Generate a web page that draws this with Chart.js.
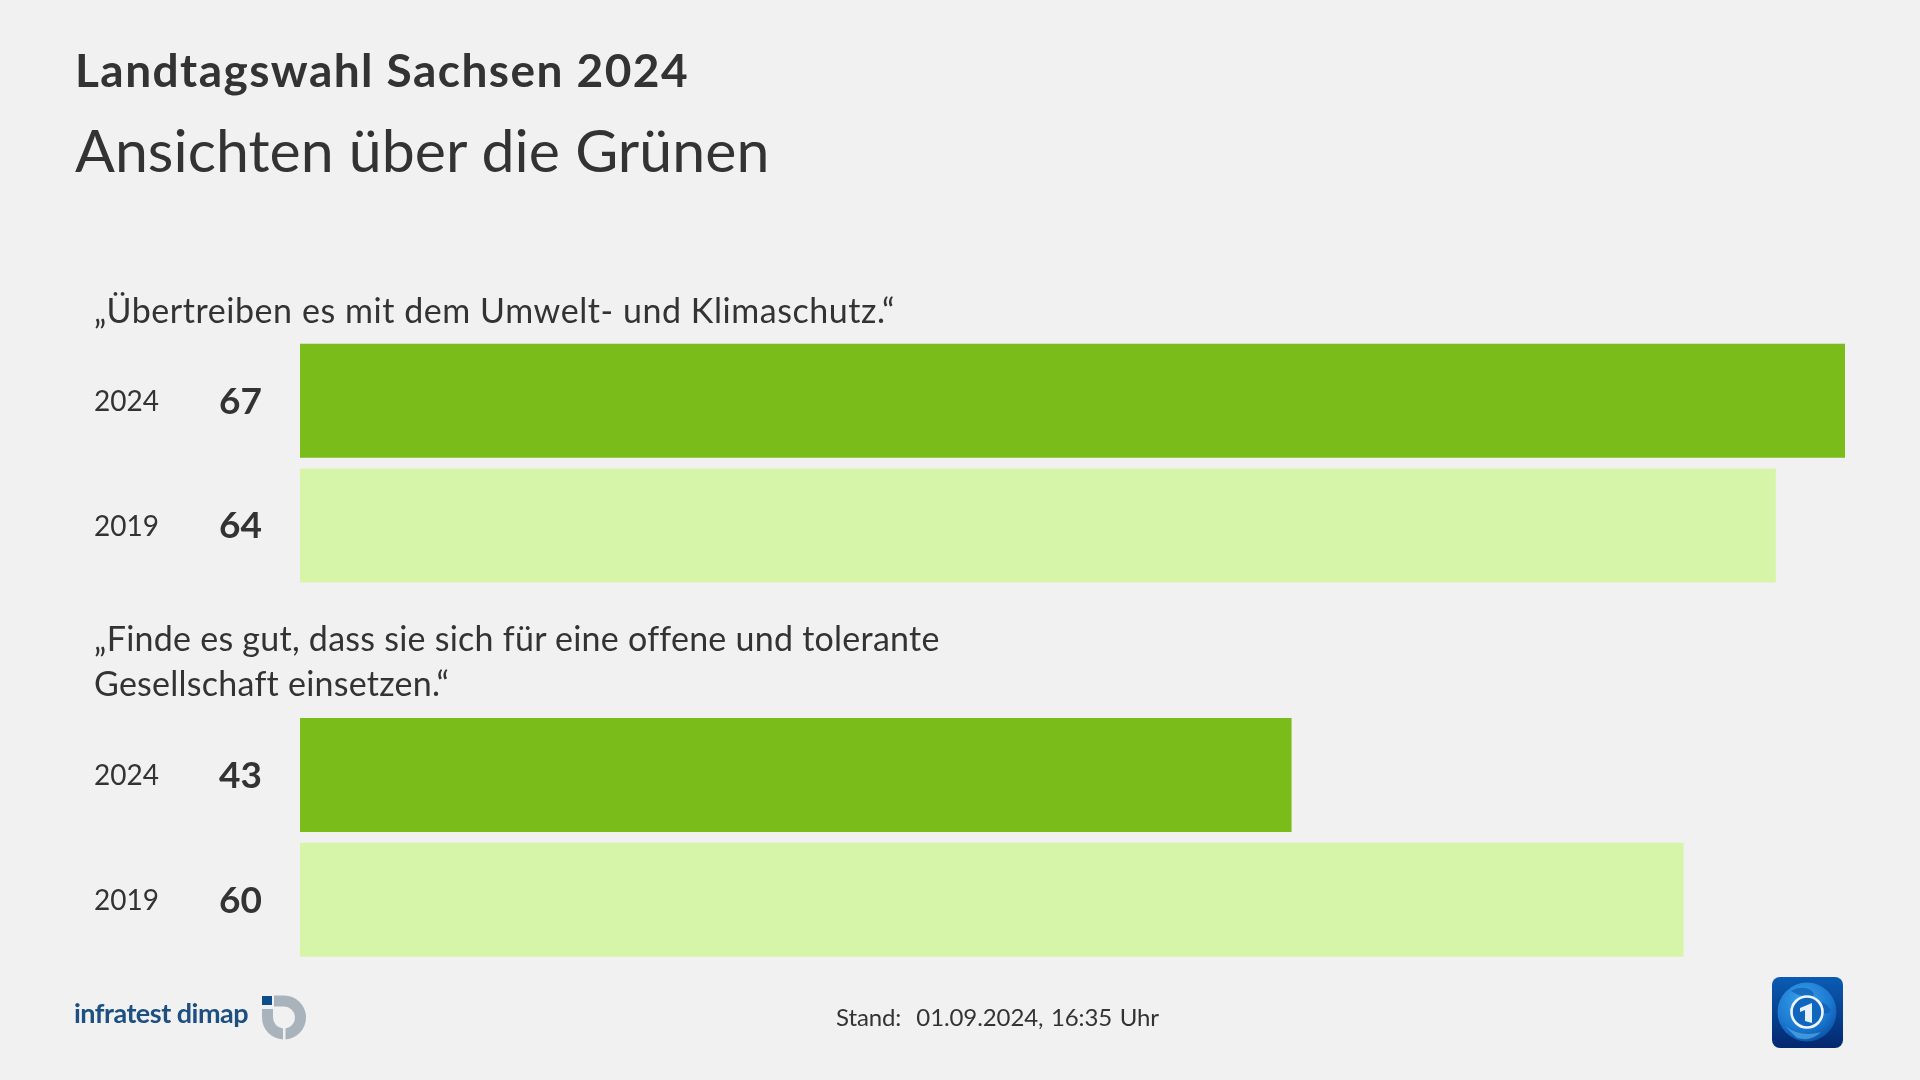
<!DOCTYPE html>
<html lang="de">
<head>
<meta charset="utf-8">
<title>Landtagswahl Sachsen 2024</title>
<script src="https://cdn.jsdelivr.net/npm/chart.js@4"></script>
<style>
  html, body { margin: 0; width: 1920px; height: 1080px; background: #f1f1f1; overflow: hidden; }
  body { position: relative; font-family: Lato, sans-serif; color: #333; }
  canvas { position: absolute; left: 0; top: 0; }
  .txt { position: absolute; white-space: pre; line-height: 1; }
  #head1 { left: 75px; top: 47px; font-size: 46px; font-weight: 700; letter-spacing: 1.45px; }
  #head2 { left: 75px; top: 120px; font-size: 59px; font-weight: 400; letter-spacing: 0.05px; }
  .question { left: 94px; font-size: 34px; line-height: 45px; }
  #q1 { top: 287px; letter-spacing: 0.56px; }
  #q2 { top: 615px; letter-spacing: 0.25px; }
  #stand { left: 836px; top: 1005px; font-size: 24px; letter-spacing: -0.1px; word-spacing: 1.5px; }
  #dimap { left: 74px; top: 999px; font-size: 27px; font-weight: 700; letter-spacing: -0.5px; color: #1d4f80; }
  svg { position: absolute; }
</style>
</head>
<body>
<canvas id="chart" width="1920" height="1080"></canvas>
<div class="txt" id="head1"></div>
<div class="txt" id="head2"></div>
<div class="txt question" id="q1"></div>
<div class="txt question" id="q2"></div>
<div class="txt" id="stand"></div>
<div class="txt" id="dimap">infratest dimap</div>

<!-- infratest dimap mark -->
<svg style="left:258px;top:992px" width="52" height="52" viewBox="0 0 52 52">
  <path d="M16 3.5 H26 A22 22 0 0 1 27.5 47.45 V36.4 A11 11 0 0 0 26 14.5 H16 Z" fill="#a9b3bc"/>
  <path d="M4 17 H15 V25.5 A11 11 0 0 0 25 36.45 V47.48 A22 22 0 0 1 4 25.5 Z" fill="#a9b3bc"/>
  <rect x="4" y="4" width="10" height="9" fill="#0f4c8a"/>
</svg>

<!-- tagesschau mark -->
<svg style="left:1771px;top:976px" width="73" height="73" viewBox="0 0 73 73">
  <defs>
    <linearGradient id="tile" x1="0" y1="0" x2="0" y2="1">
      <stop offset="0" stop-color="#0a5cb4"/><stop offset="1" stop-color="#04286e"/>
    </linearGradient>
    <radialGradient id="globe" cx="0.42" cy="0.3" r="0.75">
      <stop offset="0" stop-color="#3aa0ea"/><stop offset="0.65" stop-color="#1a78d0"/><stop offset="1" stop-color="#0a4ea2"/>
    </radialGradient>
  </defs>
  <rect x="1" y="1" width="71" height="71" rx="8" fill="url(#tile)"/>
  <circle cx="36" cy="36" r="29.5" fill="url(#globe)"/>
  <path d="M20 15 Q30 9 40 14 Q46 20 38 22 Q28 20 20 15 Z M44 26 Q54 24 60 34 Q56 40 50 36 Z" fill="#0e5cb0" opacity="0.7"/>
  <path d="M14 50 Q30 62 50 56 Q40 66 26 62 Z" fill="#5db8f0" opacity="0.6"/>
  <circle cx="36" cy="36" r="15.5" fill="#0f66bc" stroke="#eef6fc" stroke-width="2.6"/>
  <path d="M29 32 L41 27 V47 L34 45 V34 L29 36 Z" fill="#e6f2fb"/>
</svg>

<script>
const title = 'Landtagswahl Sachsen 2024';
const subtitle = 'Ansichten über die Grünen';
const questions = [
  '„Übertreiben es mit dem Umwelt- und Klimaschutz.“',
  '„Finde es gut, dass sie sich für eine offene und tolerante\nGesellschaft einsetzen.“'
];
const stand = 'Stand:  01.09.2024, 16:35 Uhr';

// the empty category leaves the room for the second question
const categories = ['2024', '2019', '', '2024', '2019'];
const values = [67, 64, null, 43, 60];

const GREEN_2024 = '#7abd1b';
const GREEN_2019 = '#d7f5a9';
const TEXT = '#333333';

document.getElementById('head1').textContent = title;
document.getElementById('head2').textContent = subtitle;
document.getElementById('q1').textContent = questions[0];
document.getElementById('q2').textContent = questions[1];
document.getElementById('stand').textContent = stand;

// value labels sit in a fixed column left of the bars
const valueLabels = {
  id: 'valueLabels',
  afterDatasetsDraw(chart) {
    const { ctx } = chart;
    ctx.save();
    ctx.font = '700 37px Lato, sans-serif';
    ctx.fillStyle = TEXT;
    ctx.textAlign = 'left';
    ctx.textBaseline = 'middle';
    chart.getDatasetMeta(0).data.forEach((bar, i) => {
      if (values[i] !== null) ctx.fillText(String(values[i]), 219, bar.y + 1);
    });
    ctx.restore();
  }
};

new Chart(document.getElementById('chart'), {
  type: 'bar',
  data: {
    labels: categories,
    datasets: [{
      data: values,
      backgroundColor: (c) => categories[c.dataIndex] === '2024' ? GREEN_2024 : GREEN_2019,
      barPercentage: 1,
      categoryPercentage: 0.914
    }]
  },
  options: {
    indexAxis: 'y',
    responsive: false,
    animation: false,
    layout: { padding: { left: 94, right: 75, top: 338.4, bottom: 118 } },
    plugins: { legend: { display: false }, tooltip: { enabled: false } },
    scales: {
      x: { display: false, min: 0, max: 67 },
      y: {
        afterFit: (scale) => { scale.width = 206; },
        grid: { display: false },
        border: { display: false },
        ticks: {
          crossAlign: 'far',
          padding: 0,
          labelOffset: 1,
          autoSkip: false,
          color: TEXT,
          font: { family: 'Lato, sans-serif', size: 28 }
        }
      }
    }
  },
  plugins: [valueLabels]
});
</script>
</body>
</html>
